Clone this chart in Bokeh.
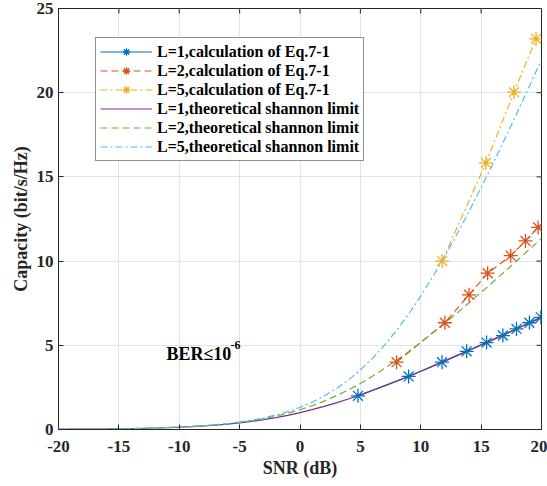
from bokeh.plotting import figure
from bokeh.models import Range1d, FixedTicker
from bokeh.core.properties import value
from bokeh.embed import file_html
from bokeh.resources import INLINE

# ---------------- data ----------------
snr_db = list(range(-20, 21))
theo_l1 = [0.0144, 0.0181, 0.0227, 0.0285, 0.0358, 0.0449, 0.0563, 0.0706, 0.0883, 0.1103,
           0.1375, 0.1711, 0.2122, 0.2625, 0.3233, 0.3964, 0.4835, 0.5861, 0.7057, 0.8435,
           1.0000, 1.1756, 1.3701, 1.5827, 1.8122, 2.0574, 2.3165, 2.5878, 2.8698, 3.1608,
           3.4594, 3.7644, 4.0746, 4.3891, 4.7070, 5.0278, 5.3509, 5.6757, 6.0022, 6.3297,
           6.6582]
theo_l2 = [0.0144, 0.0181, 0.0228, 0.0286, 0.0360, 0.0453, 0.0569, 0.0714, 0.0896, 0.1124,
           0.1408, 0.1762, 0.2201, 0.2744, 0.3414, 0.4236, 0.5238, 0.6452, 0.7914, 0.9650,
           1.1699, 1.4088, 1.6839, 1.9966, 2.3475, 2.7360, 3.1608, 3.6196, 4.1096, 4.6274,
           5.1699, 5.7337, 6.3155, 6.9126, 7.5225, 8.1427, 8.7716, 9.4075, 10.0490, 10.6951,
           11.3449]
theo_l5 = [0.0144, 0.0181, 0.0228, 0.0287, 0.0361, 0.0455, 0.0572, 0.0720, 0.0905, 0.1137,
           0.1429, 0.1794, 0.2251, 0.2823, 0.3536, 0.4424, 0.5526, 0.6891, 0.8577, 1.0640,
           1.3152, 1.6199, 1.9864, 2.4223, 2.9358, 3.5352, 4.2248, 5.0086, 5.8878, 6.8610,
           7.9248, 9.0735, 10.2999, 11.5959, 12.9533, 14.3637, 15.8192, 17.3127, 18.8379, 20.3890,
           21.9616]
calc_l1_snr = [4.8, 9.0, 11.76, 13.8, 15.45, 16.8, 17.93, 19.0, 19.95]
calc_l1_cap = [2.0, 3.15, 4.0, 4.64, 5.16, 5.58, 5.97, 6.34, 6.66]
calc_l2_snr = [8.0, 12.0, 14.0, 15.54, 17.45, 18.67, 19.72]
calc_l2_cap = [4.0, 6.34, 8.0, 9.28, 10.32, 11.2, 12.0]
calc_l5_snr = [11.77, 15.4, 17.72, 19.55]
calc_l5_cap = [10.0, 15.83, 20.03, 23.2]

x_ticks = [-20, -15, -10, -5, 0, 5, 10, 15, 20]
x_tick_labels = ["-20", "-15", "-10", "-5", "0", "5", "10", "15", "20"]
y_ticks = [0, 5, 10, 15, 20, 25]
y_tick_labels = ["0", "5", "10", "15", "20", "25"]

labels = ["L=1,calculation of Eq.7-1", "L=2,calculation of Eq.7-1", "L=5,calculation of Eq.7-1",
          "L=1,theoretical shannon limit", "L=2,theoretical shannon limit", "L=5,theoretical shannon limit"]

# ---------------- styles ----------------
FONT = "Liberation Serif"
INK = "#262626"
C_BLUE, C_ORANGE, C_YELLOW = "#0072BD", "#D95319", "#EDB120"
C_PURPLE, C_GREEN, C_CYAN = "#7E2F8E", "#77AC30", "#4DBEEE"
DASH = "7 4"
DASHDOT = "7 3 2 3"

X_MIN, X_MAX, Y_MIN, Y_MAX = -20, 20, 0, 25

p = figure(width=547, height=486, output_backend="svg", toolbar_location=None,
           x_range=Range1d(X_MIN, X_MAX), y_range=Range1d(Y_MIN, Y_MAX))
p.min_border_left = 58
p.min_border_right = 6
p.min_border_top = 8
p.min_border_bottom = 57
p.outline_line_color = INK
p.outline_line_width = 1
p.background_fill_color = "white"
p.border_fill_color = "white"

# axes
p.xaxis.ticker = FixedTicker(ticks=x_ticks)
p.yaxis.ticker = FixedTicker(ticks=y_ticks)
p.xaxis.major_label_overrides = {t: l for t, l in zip(x_ticks, x_tick_labels)}
p.yaxis.major_label_overrides = {t: l for t, l in zip(y_ticks, y_tick_labels)}
p.xaxis.axis_label = "SNR (dB)"
p.yaxis.axis_label = "Capacity (bit/s/Hz)"
for ax in (p.xaxis[0], p.yaxis[0]):
    ax.axis_line_color = INK
    ax.major_tick_line_color = INK
    ax.major_tick_in = 5
    ax.major_tick_out = 0
    ax.minor_tick_in = 0
    ax.minor_tick_out = 0
    ax.major_label_text_font = FONT
    ax.major_label_text_font_style = "bold"
    ax.major_label_text_font_size = "17px"
    ax.major_label_text_color = INK
    ax.axis_label_text_font = FONT
    ax.axis_label_text_font_style = "bold"
    ax.axis_label_text_font_size = "18px"
    ax.axis_label_text_color = INK
p.xaxis.major_label_standoff = 11
p.xaxis.axis_label_standoff = 3
p.yaxis.major_label_standoff = 5
p.yaxis.axis_label_standoff = 3

p.xgrid.grid_line_color = "#e3e3e3"
p.ygrid.grid_line_color = "#e3e3e3"

# inward ticks on the top and right edges of the box (MATLAB "box on"), from the tick lists
tick_len_y = 5 / (421 / (Y_MAX - Y_MIN))   # 5 px expressed in y units
tick_len_x = 5 / (483 / (X_MAX - X_MIN))   # 5 px expressed in x units
p.segment(x0=x_ticks, y0=[Y_MAX] * len(x_ticks), x1=x_ticks, y1=[Y_MAX - tick_len_y] * len(x_ticks),
          line_color=INK, line_width=1)
p.segment(x0=[X_MAX] * len(y_ticks), y0=y_ticks, x1=[X_MAX - tick_len_x] * len(y_ticks), y1=y_ticks,
          line_color=INK, line_width=1)

# calculation lines
p.line(calc_l1_snr, calc_l1_cap, color=C_BLUE, line_width=1.2, legend_label=labels[0])
p.line(calc_l2_snr, calc_l2_cap, color=C_ORANGE, line_width=1.2, line_dash=DASH, legend_label=labels[1])
p.line(calc_l5_snr, calc_l5_cap, color=C_YELLOW, line_width=1.2, line_dash=DASHDOT, legend_label=labels[2])
# theoretical lines
p.line(snr_db, theo_l1, color=C_PURPLE, line_width=1.2, legend_label=labels[3])
p.line(snr_db, theo_l2, color=C_GREEN, line_width=1.2, line_dash=DASH, legend_label=labels[4])
p.line(snr_db, theo_l5, color=C_CYAN, line_width=1.2, line_dash=DASHDOT, legend_label=labels[5])
# markers
p.scatter(calc_l1_snr, calc_l1_cap, marker="asterisk", size=14, line_color=C_BLUE, line_width=1.3, legend_label=labels[0])
p.scatter(calc_l2_snr, calc_l2_cap, marker="asterisk", size=14, line_color=C_ORANGE, line_width=1.3, legend_label=labels[1])
p.scatter(calc_l5_snr, calc_l5_cap, marker="asterisk", size=14, line_color=C_YELLOW, line_width=1.3, legend_label=labels[2])

# annotation
p.text(x=[-11.06], y=[4.51], text=["BER≤10"], text_font=value(FONT), text_font_style="bold",
       text_font_size="18px", text_color="black", text_baseline="alphabetic", text_align="left")
p.text(x=[-5.75], y=[5.0], text=["-6"], text_font=value(FONT), text_font_style="bold",
       text_font_size="12px", text_color="black", text_baseline="alphabetic", text_align="left")

# legend
lg = p.legend[0]
lg.location = (37, 268)
lg.border_line_color = INK
lg.border_line_width = 1
lg.background_fill_color = "white"
lg.background_fill_alpha = 1
lg.label_text_font = FONT
lg.label_text_font_style = "bold"
lg.label_text_font_size = "16px"
lg.label_text_color = "black"
lg.glyph_width = 52
lg.glyph_height = 19
lg.label_height = 19
lg.spacing = 0
lg.padding = 4
lg.margin = 0
lg.label_standoff = 5

open("out.html", "w").write(file_html(p, INLINE))
